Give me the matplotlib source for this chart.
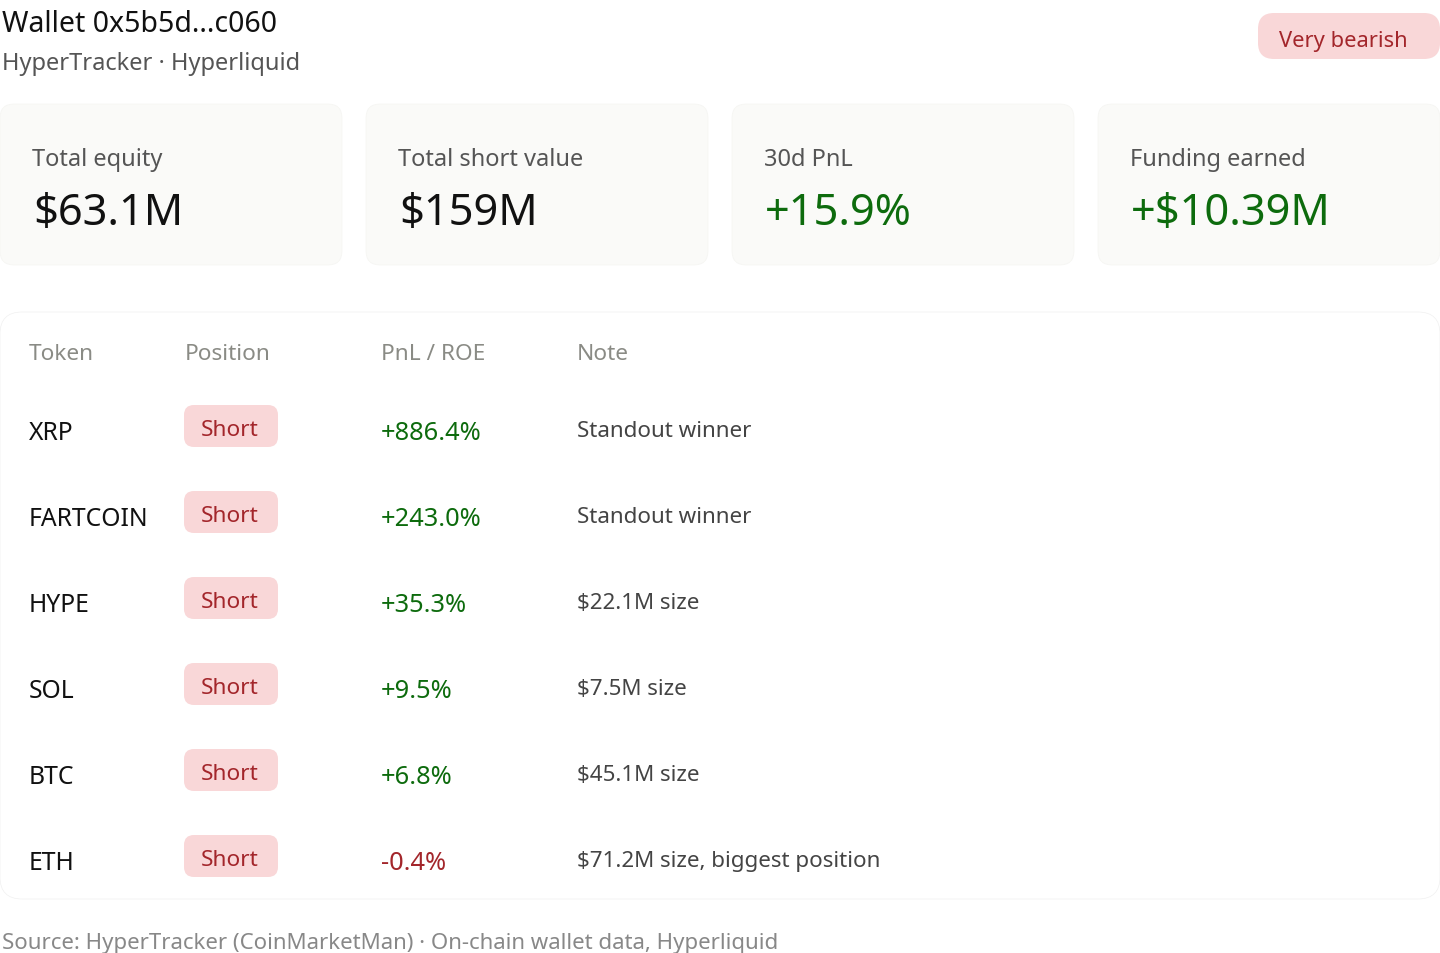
import matplotlib
matplotlib.use("Agg")
import matplotlib.pyplot as plt
from matplotlib.patches import FancyBboxPatch

plt.rcParams['font.family'] = ['Noto Sans', 'DejaVu Sans']

# data
title = "Wallet 0x5b5d...c060"
subtitle = "HyperTracker · Hyperliquid"
sentiment = "Very bearish"
stat_labels = ["Total equity", "Total short value", "30d PnL", "Funding earned"]
stat_values = ["$63.1M", "$159M", "+15.9%", "+$10.39M"]
headers = ["Token", "Position", "PnL / ROE", "Note"]
tokens = ["XRP", "FARTCOIN", "HYPE", "SOL", "BTC", "ETH"]
positions = ["Short", "Short", "Short", "Short", "Short", "Short"]
pnl_roe = [886.4, 243.0, 35.3, 9.5, 6.8, -0.4]
notes = ["Standout winner", "Standout winner", "$22.1M size", "$7.5M size",
         "$45.1M size", "$71.2M size, biggest position"]
source = "Source: HyperTracker (CoinMarketMan) · On-chain wallet data, Hyperliquid"

GREEN = "#0d6b0d"
RED = "#a3262b"
PINK = "#f9d7d8"

W, H = 1440, 954
fig = plt.figure(figsize=(W/100, H/100), dpi=100)
ax = fig.add_axes([0, 0, 1, 1])
ax.set_xlim(0, W)
ax.set_ylim(H, 0)
ax.axis("off")

def rbox(x, y, w, h, r, fc, ec="none", lw=0):
    ax.add_patch(FancyBboxPatch((x, y), w, h, boxstyle=f"round,pad=0,rounding_size={r}",
                                fc=fc, ec=ec, lw=lw))

# header
ax.text(2, 24, title, fontsize=20.5, color="#111111", va="center", ha="left")
ax.text(2, 64, subtitle, fontsize=17, color="#555555", va="center", ha="left")
rbox(1258, 14, 182, 46, 16, PINK)
ax.text(1343, 42, sentiment, fontsize=15.8, color=RED, va="center", ha="center")

# stat cards
card_w, gap = 342, 24
for i, (lab, val) in enumerate(zip(stat_labels, stat_values)):
    x0 = i * (card_w + gap)
    rbox(x0, 105, card_w, 161, 14, "#fafaf8", ec="#f5f5f2", lw=0.5)
    ax.text(x0 + 32, 160, lab, fontsize=17, color="#555555", va="center", ha="left")
    col = GREEN if val.startswith("+") else "#111111"
    ax.text(x0 + 33, 214, val, fontsize=31.3, color=col, va="center", ha="left")

# table card
rbox(0, 313, 1440, 587, 22, "white", ec="#f0f0f0", lw=0.5)
col_x = [29, 185, 381, 577]
for cx, h in zip(col_x, headers):
    ax.text(cx, 355, h, fontsize=16.3, color="#8a8b85", va="center", ha="left")

row_y0, row_dy = 431, 86
for i, (tok, pos, p, note) in enumerate(zip(tokens, positions, pnl_roe, notes)):
    y = row_y0 + i * row_dy
    ax.text(col_x[0], y + 3, tok, fontsize=17.8, color="#111111", va="center", ha="left")
    rbox(184, y - 25, 94, 42, 10, PINK)
    ax.text(230, y, pos, fontsize=16.3, color=RED, va="center", ha="center")
    ax.text(col_x[2], y + 3, f"{p:+.1f}%", fontsize=18.3, color=GREEN if p >= 0 else RED,
            va="center", ha="left")
    ax.text(col_x[3], y + 1, note, fontsize=16.1, color="#444444", va="center", ha="left")

ax.text(2, 944, source, fontsize=16, color="#888888", va="center", ha="left")

fig.savefig("out.png", dpi=100, facecolor="white")
